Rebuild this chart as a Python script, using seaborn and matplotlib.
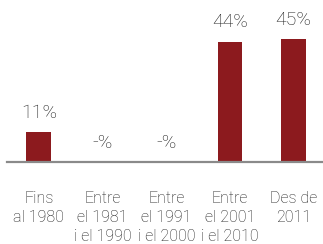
import matplotlib
matplotlib.use("Agg")
import matplotlib.pyplot as plt
import seaborn as sns
import pandas as pd

categories = ["Fins\nal 1980", "Entre\nel 1981\ni el 1990", "Entre\nel 1991\ni el 2000",
              "Entre\nel 2001\ni el 2010", "Des de\n2011"]
values = [11, 0, 0, 44, 45]
value_labels = ["11%", "-%", "-%", "44%", "45%"]

sns.set_theme(style="white")
plt.rcParams['font.family'] = ['Roboto', 'DejaVu Sans']

df = pd.DataFrame({"cat": categories, "val": values})

W, H = 323, 244
fig = plt.figure(figsize=(W / 100, H / 100), dpi=100)
ax = fig.add_axes([7 / W, (H - 162) / H, (323 - 7) / W, 162 / H])

sns.barplot(data=df, x="cat", y="val", color="#8c1a1e", width=0.39, saturation=1,
            ax=ax, edgecolor="none")

ax.set_xlim(-0.5, 4.46)
ax.set_ylim(0, 59.3)
for s in ["top", "right", "left"]:
    ax.spines[s].set_visible(False)
ax.spines["bottom"].set_color("#8a8a8a")
ax.spines["bottom"].set_linewidth(1.6)
ax.set_yticks([])
ax.set_xlabel("")
ax.set_ylabel("")
ax.tick_params(axis="x", length=0, pad=21, labelsize=11.5, labelcolor="#1e1e1e")
for t in ax.get_xticklabels():
    t.set_linespacing(1.33)
    t.set_fontweight("light")

for i, (v, lab) in enumerate(zip(values, value_labels)):
    ax.annotate(lab, xy=(i, v), xytext=(0, 14), textcoords="offset points",
                ha="center", va="center", fontsize=14, color="#1e1e1e",
                fontweight="light")

fig.savefig("out.png", dpi=100)
